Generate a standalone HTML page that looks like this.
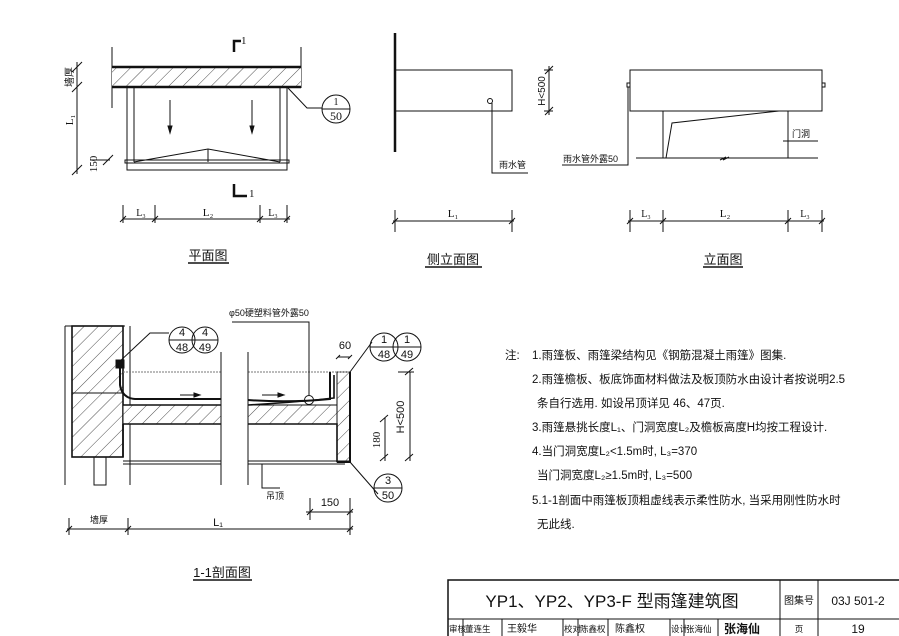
<!DOCTYPE html>
<html><head><meta charset="utf-8"><style>
html,body{margin:0;padding:0;background:#fff;}
svg{display:block;}
text{font-family:"Liberation Sans","Noto Sans CJK SC",sans-serif;fill:#111;}
.s{font-family:"Liberation Serif","Noto Serif CJK SC",serif;}
</style></head><body>
<svg width="899" height="636" viewBox="0 0 899 636" xmlns="http://www.w3.org/2000/svg">
<defs>
<pattern id="h" width="10" height="10" patternUnits="userSpaceOnUse" patternTransform="rotate(45)">
<rect width="10" height="10" fill="#fff"/><line x1="0" y1="0" x2="0" y2="10" stroke="#222" stroke-width="0.8"/></pattern>
</defs>
<g stroke="#111" fill="none" stroke-width="1">
<!-- ===== Plan ===== -->
<line x1="112" y1="47" x2="112" y2="108"/>
<line x1="301" y1="47" x2="301" y2="88"/>
<rect x="112" y="67" width="189" height="20" fill="url(#h)" stroke="none"/>
<line x1="112" y1="67" x2="301" y2="67" stroke-width="2.5"/>
<line x1="112" y1="87" x2="301" y2="87" stroke-width="2.5"/>
<path d="M127 87 V170 H287 V87"/>
<path d="M134 87 V162 M280 87 V162"/>
<rect x="125" y="160" width="164" height="3"/>
<path d="M134 162 L208 149 L280 162 M208 149 V162"/>
<path d="M170 100 V128 M252 100 V128"/>
<path d="M170 133 l-2 -7 h4z M252 133 l-2 -7 h4z" fill="#111"/>
<path d="M234 52 V41 H241" stroke-width="2.5"/>
<path d="M234 184 V196 H247" stroke-width="2.5"/>
<path d="M288 88 L307 108 H322"/>
<circle cx="336" cy="109" r="14"/><line x1="322" y1="109" x2="350" y2="109"/>
<path d="M77 62 V174"/>
<path d="M72 72 l10 -10 M72 92 l10 -10 M72 175 l10 -10 M103 165 l10 -10"/>
<path d="M90 160 H110"/>
<path d="M123 205 V223 M155 205 V223 M260 205 V223 M287 205 V223 M123 219 H290"/>
<path d="M120 222 l6 -6 M152 222 l6 -6 M257 222 l6 -6 M284 222 l6 -6"/>
<line x1="188" y1="263" x2="229" y2="263" stroke-width="1.5"/>
<!-- ===== Side elevation ===== -->
<line x1="395" y1="33" x2="395" y2="152" stroke-width="2.5"/>
<rect x="395" y="70" width="117" height="41"/>
<circle cx="490" cy="101" r="2.5"/>
<path d="M492 103 V173 H528"/>
<path d="M549 66 V115 M544 70 H553 M544 111 H553 M545 74 l8 -8 M545 115 l8 -8"/>
<path d="M395 210 V232 M512 210 V232 M393 221 H514 M392 224 l6 -6 M509 224 l6 -6"/>
<line x1="425" y1="267" x2="482" y2="267" stroke-width="1.5"/>
<!-- ===== Elevation ===== -->
<rect x="630" y="70" width="192" height="41"/>
<rect x="627" y="83" width="3" height="4"/><rect x="822" y="83" width="3" height="4"/>
<path d="M628 87 V165 H562"/>
<path d="M663 111 V158 M788 111 V158 M636 158 H818"/>
<path d="M666 158 L672 123 L779 111"/>
<path d="M783 141 H818"/>
<path d="M720 160 l6 -3 -3 3 6 -3"/>
<path d="M630 210 V232 M663 210 V232 M788 210 V232 M822 210 V232 M628 221 H824"/>
<path d="M627 224 l6 -6 M660 224 l6 -6 M785 224 l6 -6 M819 224 l6 -6"/>
<line x1="703" y1="267" x2="743" y2="267" stroke-width="1.5"/>
<!-- ===== Section ===== -->
<path d="M65 326 H125 M65 326 V485 M130 326 V485"/>
<rect x="72" y="326" width="51" height="131" fill="url(#h)" stroke="#111" stroke-width="1.6"/>
<path d="M72 393 H123"/>
<rect x="123" y="405" width="98" height="19" fill="url(#h)"/>
<rect x="248" y="405" width="89" height="19" fill="url(#h)"/>
<rect x="337" y="372" width="13" height="90" fill="url(#h)"/>
<path d="M123 405 H221 M123 424 H221 M248 424 H337 V462 M248 405 Q300 402 334 398 V375" stroke-width="1.6"/>
<path d="M123 424 V457" stroke-width="1.6"/>
<path d="M350 372 V462 H337" stroke-width="2"/>
<path d="M123 372 H221 M248 372 H350" stroke="#777" stroke-dasharray="2 1"/>
<path d="M123 461 H221 M248 461 H350 M123 464 H221 M248 464 H345"/>
<path d="M221 352 V485 M248 352 V485"/>
<rect x="116" y="360" width="8" height="8" fill="#111"/>
<path d="M120 368 V385 Q122 398 135 399 H221 M248 400 Q290 403 330 399 V372" stroke-width="2"/>
<path d="M180 395 H196 M262 395 H280"/><path d="M200 395 l-6 -2 v4z M284 395 l-6 -2 v4z" fill="#111"/>
<rect x="94" y="457" width="12" height="28"/>
<circle cx="309" cy="400" r="4.5"/>
<path d="M309 395 V322 H232"/>
<circle cx="182" cy="340" r="13"/><circle cx="205" cy="340" r="13"/>
<path d="M169 340 H218 M118 363 L150 333 H169"/>
<circle cx="384" cy="347" r="14"/><circle cx="407" cy="347" r="14"/>
<path d="M370 347 H421 M350 372 L372 342"/>
<circle cx="388" cy="488" r="14"/><path d="M374 488 H402 M350 462 L378 494"/>
<path d="M338 357 H350 M336 359 l4 -4 M348 359 l4 -4"/>
<path d="M410 372 V461 M405 375 l8 -7 M405 461 l8 -7 M398 372 H414"/>
<path d="M385 418 V461 M380 422 l8 -7 M380 461 l8 -7"/>
<path d="M262 464 V488 H280"/>
<path d="M310 498 V520 M350 498 V520 M306 512 H353 M307 515 l6 -6 M347 515 l6 -6"/>
<path d="M69 518 V535 M128 518 V535 M350 518 V535 M67 529 H353 M66 532 l6 -6 M125 532 l6 -6 M347 532 l6 -6"/>
<line x1="193" y1="580" x2="252" y2="580" stroke-width="1.5"/>
<!-- ===== Title block ===== -->
<rect x="448" y="580" width="460" height="70" stroke-width="1.5"/>
<path d="M448 619 H899 M780 580 V636 M818 580 V636"/>
<path d="M463 619 V636 M502 619 V636 M563 619 V636 M578 619 V636 M608 619 V636 M670 619 V636 M684 619 V636 M718 619 V636"/>
</g>
<!-- Plan text -->
<text x="241" y="44" font-size="11" class="s">1</text>
<text x="249" y="197" font-size="11" class="s">1</text>
<text x="336" y="105" font-size="10" text-anchor="middle" class="s">1</text>
<text x="336" y="120" font-size="12" text-anchor="middle" class="s">50</text>
<text transform="translate(73,77) rotate(-90)" font-size="10" text-anchor="middle">墙厚</text>
<text transform="translate(73,120) rotate(-90)" font-size="11" text-anchor="middle" class="s">L₁</text>
<text transform="translate(97,164) rotate(-90)" font-size="11" text-anchor="middle" class="s">150</text>
<text x="141" y="216" font-size="10" text-anchor="middle" class="s">L₃</text>
<text x="208" y="216" font-size="11" text-anchor="middle" class="s">L₂</text>
<text x="273" y="216" font-size="10" text-anchor="middle" class="s">L₃</text>
<text x="208" y="260" font-size="13" text-anchor="middle">平面图</text>
<!-- side elev -->
<text x="499" y="168" font-size="9">雨水管</text>
<text transform="translate(545,91) rotate(-90)" font-size="10" text-anchor="middle">H&lt;500</text>
<text x="453" y="217" font-size="11" text-anchor="middle" class="s">L₁</text>
<text x="453" y="264" font-size="13" text-anchor="middle">侧立面图</text>
<!-- elevation -->
<text x="563" y="162" font-size="9">雨水管外露50</text>
<text x="792" y="137" font-size="9">门洞</text>
<text x="646" y="217" font-size="10" text-anchor="middle" class="s">L₃</text>
<text x="725" y="217" font-size="11" text-anchor="middle" class="s">L₂</text>
<text x="805" y="217" font-size="10" text-anchor="middle" class="s">L₃</text>
<text x="723" y="264" font-size="13" text-anchor="middle">立面图</text>
<!-- section text -->
<text x="229" y="316" font-size="9">φ50硬塑料管外露50</text>
<g font-size="11" text-anchor="middle" class="s">
<text x="182" y="336">4</text><text x="182" y="351">48</text>
<text x="205" y="336">4</text><text x="205" y="351">49</text>
<text x="384" y="343">1</text><text x="384" y="358">48</text>
<text x="407" y="343">1</text><text x="407" y="358">49</text>
<text x="388" y="484">3</text><text x="388" y="499">50</text>
<text x="345" y="349">60</text>
<text x="330" y="506">150</text>
<text x="218" y="526">L₁</text>
</g>
<text transform="translate(404,417) rotate(-90)" font-size="11" text-anchor="middle">H&lt;500</text>
<text transform="translate(380,440) rotate(-90)" font-size="11" text-anchor="middle" class="s">180</text>
<text x="266" y="499" font-size="9">吊顶</text>
<text x="99" y="523" font-size="9" text-anchor="middle">墙厚</text>
<text x="222" y="577" font-size="13" text-anchor="middle">1-1剖面图</text>
<!-- notes -->
<g font-size="11.5">
<text x="505" y="359">注:</text>
<text x="532" y="359">1.雨篷板、雨篷梁结构见《钢筋混凝土雨篷》图集.</text>
<text x="532" y="383">2.雨篷檐板、板底饰面材料做法及板顶防水由设计者按说明2.5</text>
<text x="537" y="407">条自行选用. 如设吊顶详见 46、47页.</text>
<text x="532" y="431">3.雨篷悬挑长度L₁、门洞宽度L₂及檐板高度H均按工程设计.</text>
<text x="532" y="455">4.当门洞宽度L₂&lt;1.5m时, L₃=370</text>
<text x="537" y="479">当门洞宽度L₂≥1.5m时, L₃=500</text>
<text x="532" y="504">5.1-1剖面中雨篷板顶粗虚线表示柔性防水, 当采用刚性防水时</text>
<text x="537" y="528">无此线.</text>
</g>
<!-- title block text -->
<text x="612" y="607" font-size="17" text-anchor="middle">YP1、YP2、YP3-F 型雨篷建筑图</text>
<text x="799" y="604" font-size="10" text-anchor="middle">图集号</text>
<text x="858" y="605" font-size="12" text-anchor="middle">03J 501-2</text>
<g font-size="8.5">
<text x="449" y="632">审核</text><text x="465" y="632">董连生</text>
<text x="507" y="632" font-size="10">王毅华</text>
<text x="564" y="632">校对</text><text x="580" y="632">陈鑫权</text>
<text x="615" y="632" font-size="10">陈鑫权</text>
<text x="671" y="632">设计</text><text x="686" y="632">张海仙</text>
<text x="724" y="633" font-size="12" font-weight="bold">张海仙</text>
<text x="799" y="632" text-anchor="middle">页</text>
<text x="858" y="633" font-size="12" text-anchor="middle">19</text>
</g>
</svg>
</body></html>
